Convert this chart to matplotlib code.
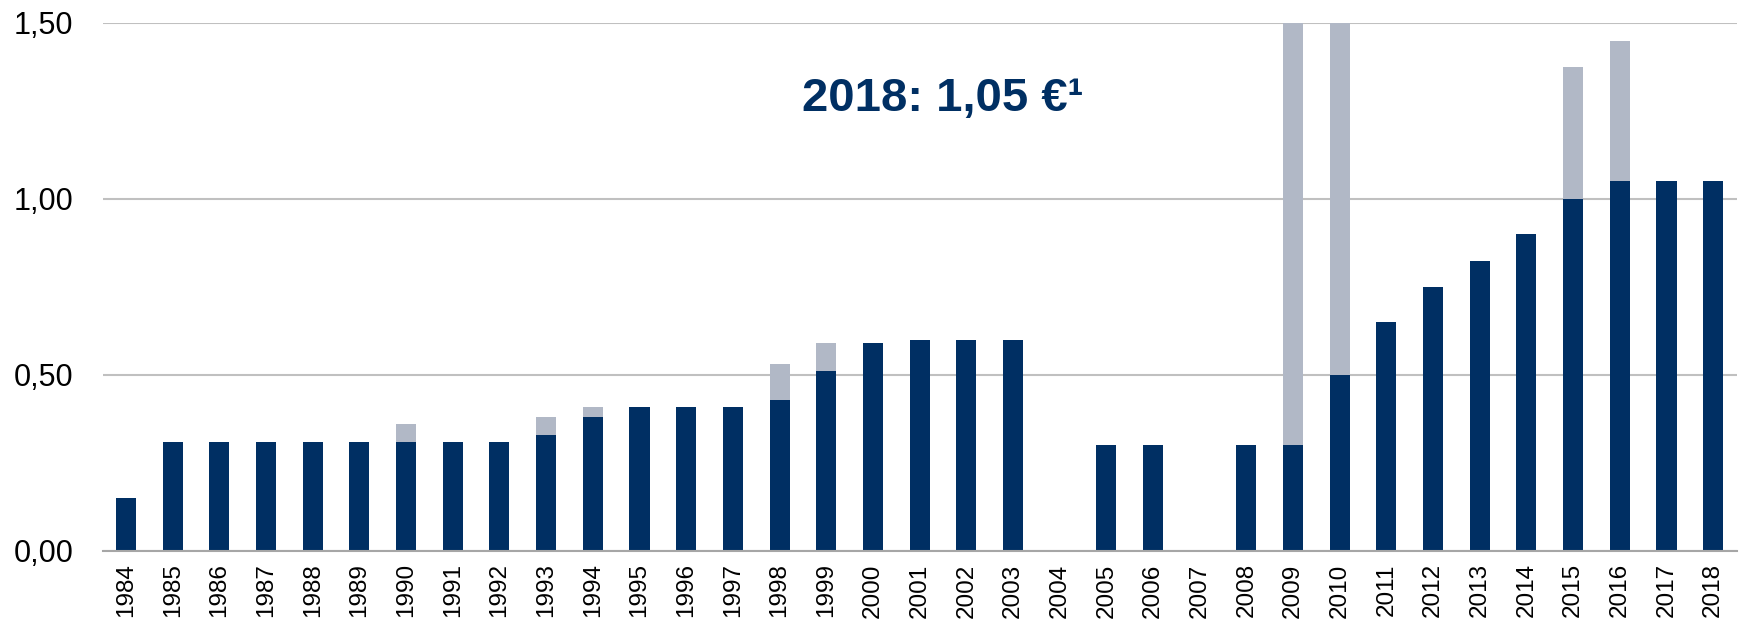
import matplotlib.pyplot as plt
import numpy as np

plt.rcParams['font.family'] = ['Liberation Sans', 'DejaVu Sans']

# dividend per share in EUR, base dividend + special/bonus part
years = [str(y) for y in range(1984, 2019)]
base = [0.15, 0.31, 0.31, 0.31, 0.31, 0.31, 0.31, 0.31, 0.31, 0.33,
        0.38, 0.41, 0.41, 0.41, 0.43, 0.51, 0.59, 0.60, 0.60, 0.60,
        0.00, 0.30, 0.30, 0.00, 0.30, 0.30, 0.50, 0.65, 0.75, 0.825,
        0.90, 1.00, 1.05, 1.05, 1.05]
special = [0.00, 0.00, 0.00, 0.00, 0.00, 0.00, 0.05, 0.00, 0.00, 0.05,
           0.03, 0.00, 0.00, 0.00, 0.10, 0.08, 0.00, 0.00, 0.00, 0.00,
           0.00, 0.00, 0.00, 0.00, 0.00, 1.20, 1.00, 0.00, 0.00, 0.00,
           0.00, 0.375, 0.40, 0.00, 0.00]
y_ticks = [0.0, 0.5, 1.0, 1.5]
y_labels = ['0,00', '0,50', '1,00', '1,50']

navy = '#002f63'
grey = '#b1b8c6'

fig = plt.figure(figsize=(17.4, 6.21), dpi=100)
ax = fig.add_axes([0.059, 0.113, 0.939, 0.850])

x = np.arange(len(years))
ax.bar(x, base, width=0.43, color=navy, zorder=3)
ax.bar(x, special, width=0.43, bottom=base, color=grey, zorder=3)

ax.set_xlim(-0.5, len(years) - 0.5)
ax.set_ylim(0, 1.5)
ax.set_yticks(y_ticks)
ax.set_yticklabels(y_labels, fontsize=22)
ax.set_xticks(x)
ax.set_xticklabels(years, rotation=90, fontsize=17.5, va='top')
ax.tick_params(length=0)
ax.tick_params(axis='y', pad=21)
ax.tick_params(axis='x', pad=9)

ax.grid(axis='y', color='#c0c0c0', linewidth=1.5, zorder=0)
for s in ['top', 'right', 'left']:
    ax.spines[s].set_visible(False)
ax.spines['bottom'].set_color('#a6a6a6')
ax.spines['bottom'].set_linewidth(1.5)
ax.spines['bottom'].set_zorder(4)

ax.text(17.5, 1.285, '2018: 1,05 €¹', fontsize=34, fontweight='bold',
        color=navy, ha='center', va='center')

fig.savefig('out.png', dpi=100)
